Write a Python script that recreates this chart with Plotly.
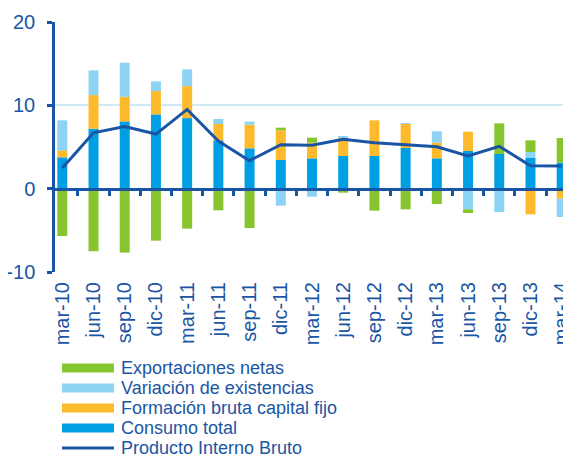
import plotly.graph_objects as go

categories = ["mar-10", "jun-10", "sep-10", "dic-10", "mar-11", "jun-11", "sep-11", "dic-11",
              "mar-12", "jun-12", "sep-12", "dic-12", "mar-13", "jun-13", "sep-13", "dic-13", "mar-14"]

consumo_total = [3.76, 7.19, 8.07, 8.91, 8.47, 5.80, 4.84, 3.44, 3.64, 3.92, 3.92, 4.88, 3.64, 4.52, 4.16, 3.68, 3.12]
formacion_bruta = [0.84, 4.04, 2.96, 2.80, 3.84, 1.96, 2.84, 3.56, 1.88, 2.20, 4.28, 2.88, 1.88, 2.32, -0.24, -3.08, -1.20]
variacion_exist = [3.60, 2.96, 4.08, 1.16, 2.00, 0.60, 0.36, -2.04, -0.96, 0.20, 0.00, 0.08, 1.36, -2.48, -2.56, 0.72, -2.20]
exportaciones_netas = [-5.68, -7.51, -7.67, -6.24, -4.80, -2.60, -4.72, 0.32, 0.60, -0.48, -2.64, -2.48, -1.84, -0.44, 3.68, 1.40, 2.96]
pib = [2.48, 6.71, 7.47, 6.55, 9.51, 5.72, 3.36, 5.28, 5.20, 5.92, 5.52, 5.30, 5.02, 3.92, 5.08, 2.76, 2.72]

y_ticks = [-10, 0, 10, 20]
y_tick_labels = ["-10", "0", "10", "20"]

C_CONS = "#009fe3"
C_FBCF = "#fdba2c"
C_VE = "#8dd3f4"
C_EXP = "#87c52e"
C_LINE = "#1a55a5"
C_TEXT = "#1a56a4"
C_GRID = "#cfe9f6"

# page body has an 8px margin: the figure is placed at (8, 8) in the window
OFF = 8
W, H = 571 - OFF, 460 - OFF
ML, MT = 55 - OFF, 22 - OFF
MR = W - (567 - OFF)
MB = H - (272 - OFF)
PW = W - ML - MR
PH = H - MT - MB

fig = go.Figure()
for name, vals, col in [("Consumo total", consumo_total, C_CONS),
                        ("Formación bruta capital fijo", formacion_bruta, C_FBCF),
                        ("Variación de existencias", variacion_exist, C_VE),
                        ("Exportaciones netas", exportaciones_netas, C_EXP)]:
    fig.add_trace(go.Bar(x=categories, y=vals, name=name, marker=dict(color=col, line=dict(width=0)),
                         showlegend=False))
fig.add_trace(go.Scatter(x=categories, y=pib, name="Producto Interno Bruto", mode="lines",
                         line=dict(color=C_LINE, width=3), showlegend=False))
# carrier trace for the zero-line axis
fig.add_trace(go.Scatter(x=[], y=[], xaxis="x2", yaxis="y", showlegend=False, hoverinfo="skip"))

xr = [-0.234, 16.17]
fig.update_layout(
    width=W, height=H,
    margin=dict(l=ML, r=MR, t=MT, b=MB, autoexpand=False),
    paper_bgcolor="white", plot_bgcolor="white",
    barmode="relative", bargap=0.68,
    font=dict(family="Liberation Sans, Arial, sans-serif", color=C_TEXT, size=20),
    xaxis=dict(type="category", range=xr, showgrid=False, showline=False, ticks="",
               tickangle=-90, tickfont=dict(size=20, color=C_TEXT), zeroline=False,
               ticklabelstandoff=5, automargin=False),
    xaxis2=dict(type="linear", range=xr, overlaying="x", anchor="free", position=1/3,
                showline=True, linecolor=C_LINE, linewidth=3, showgrid=False, zeroline=False,
                tickmode="array", tickvals=[i + 0.5 for i in range(len(categories) - 1)],
                ticks="outside", ticklen=5, tickwidth=3, tickcolor=C_LINE, showticklabels=False,
                automargin=False),
    yaxis=dict(range=[-10, 20], tickmode="array", tickvals=y_ticks, ticktext=y_tick_labels,
               showgrid=True, gridcolor=C_GRID, gridwidth=1.5,
               zeroline=False, showline=True, linecolor=C_LINE, linewidth=2.5,
               ticks="outside", ticklen=5, tickwidth=2.5, tickcolor=C_LINE,
               tickfont=dict(size=20, color=C_TEXT), ticklabelstandoff=8, automargin=False),
)

def px_x(px):
    return (px - OFF - ML) / PW

def px_y(py):
    return (H - MB - (py - OFF)) / PH

legend_items = [("Exportaciones netas", C_EXP, "bar"),
                ("Variación de existencias", C_VE, "bar"),
                ("Formación bruta capital fijo", C_FBCF, "bar"),
                ("Consumo total", C_CONS, "bar"),
                ("Producto Interno Bruto", C_LINE, "line")]
for i, (label, col, kind) in enumerate(legend_items):
    cy = 368 + 20 * i
    if kind == "bar":
        fig.add_shape(type="rect", xref="paper", yref="paper",
                      x0=px_x(62), x1=px_x(114), y0=px_y(cy + 4.5), y1=px_y(cy - 4.5),
                      fillcolor=col, line=dict(width=0))
    else:
        fig.add_shape(type="line", xref="paper", yref="paper",
                      x0=px_x(62), x1=px_x(114), y0=px_y(cy), y1=px_y(cy),
                      line=dict(color=col, width=3))
    fig.add_annotation(text=label, xref="paper", yref="paper", x=px_x(119), y=px_y(cy),
                       xanchor="left", yanchor="middle", showarrow=False,
                       font=dict(size=18, color=C_TEXT))

fig.write_html("out.html")
